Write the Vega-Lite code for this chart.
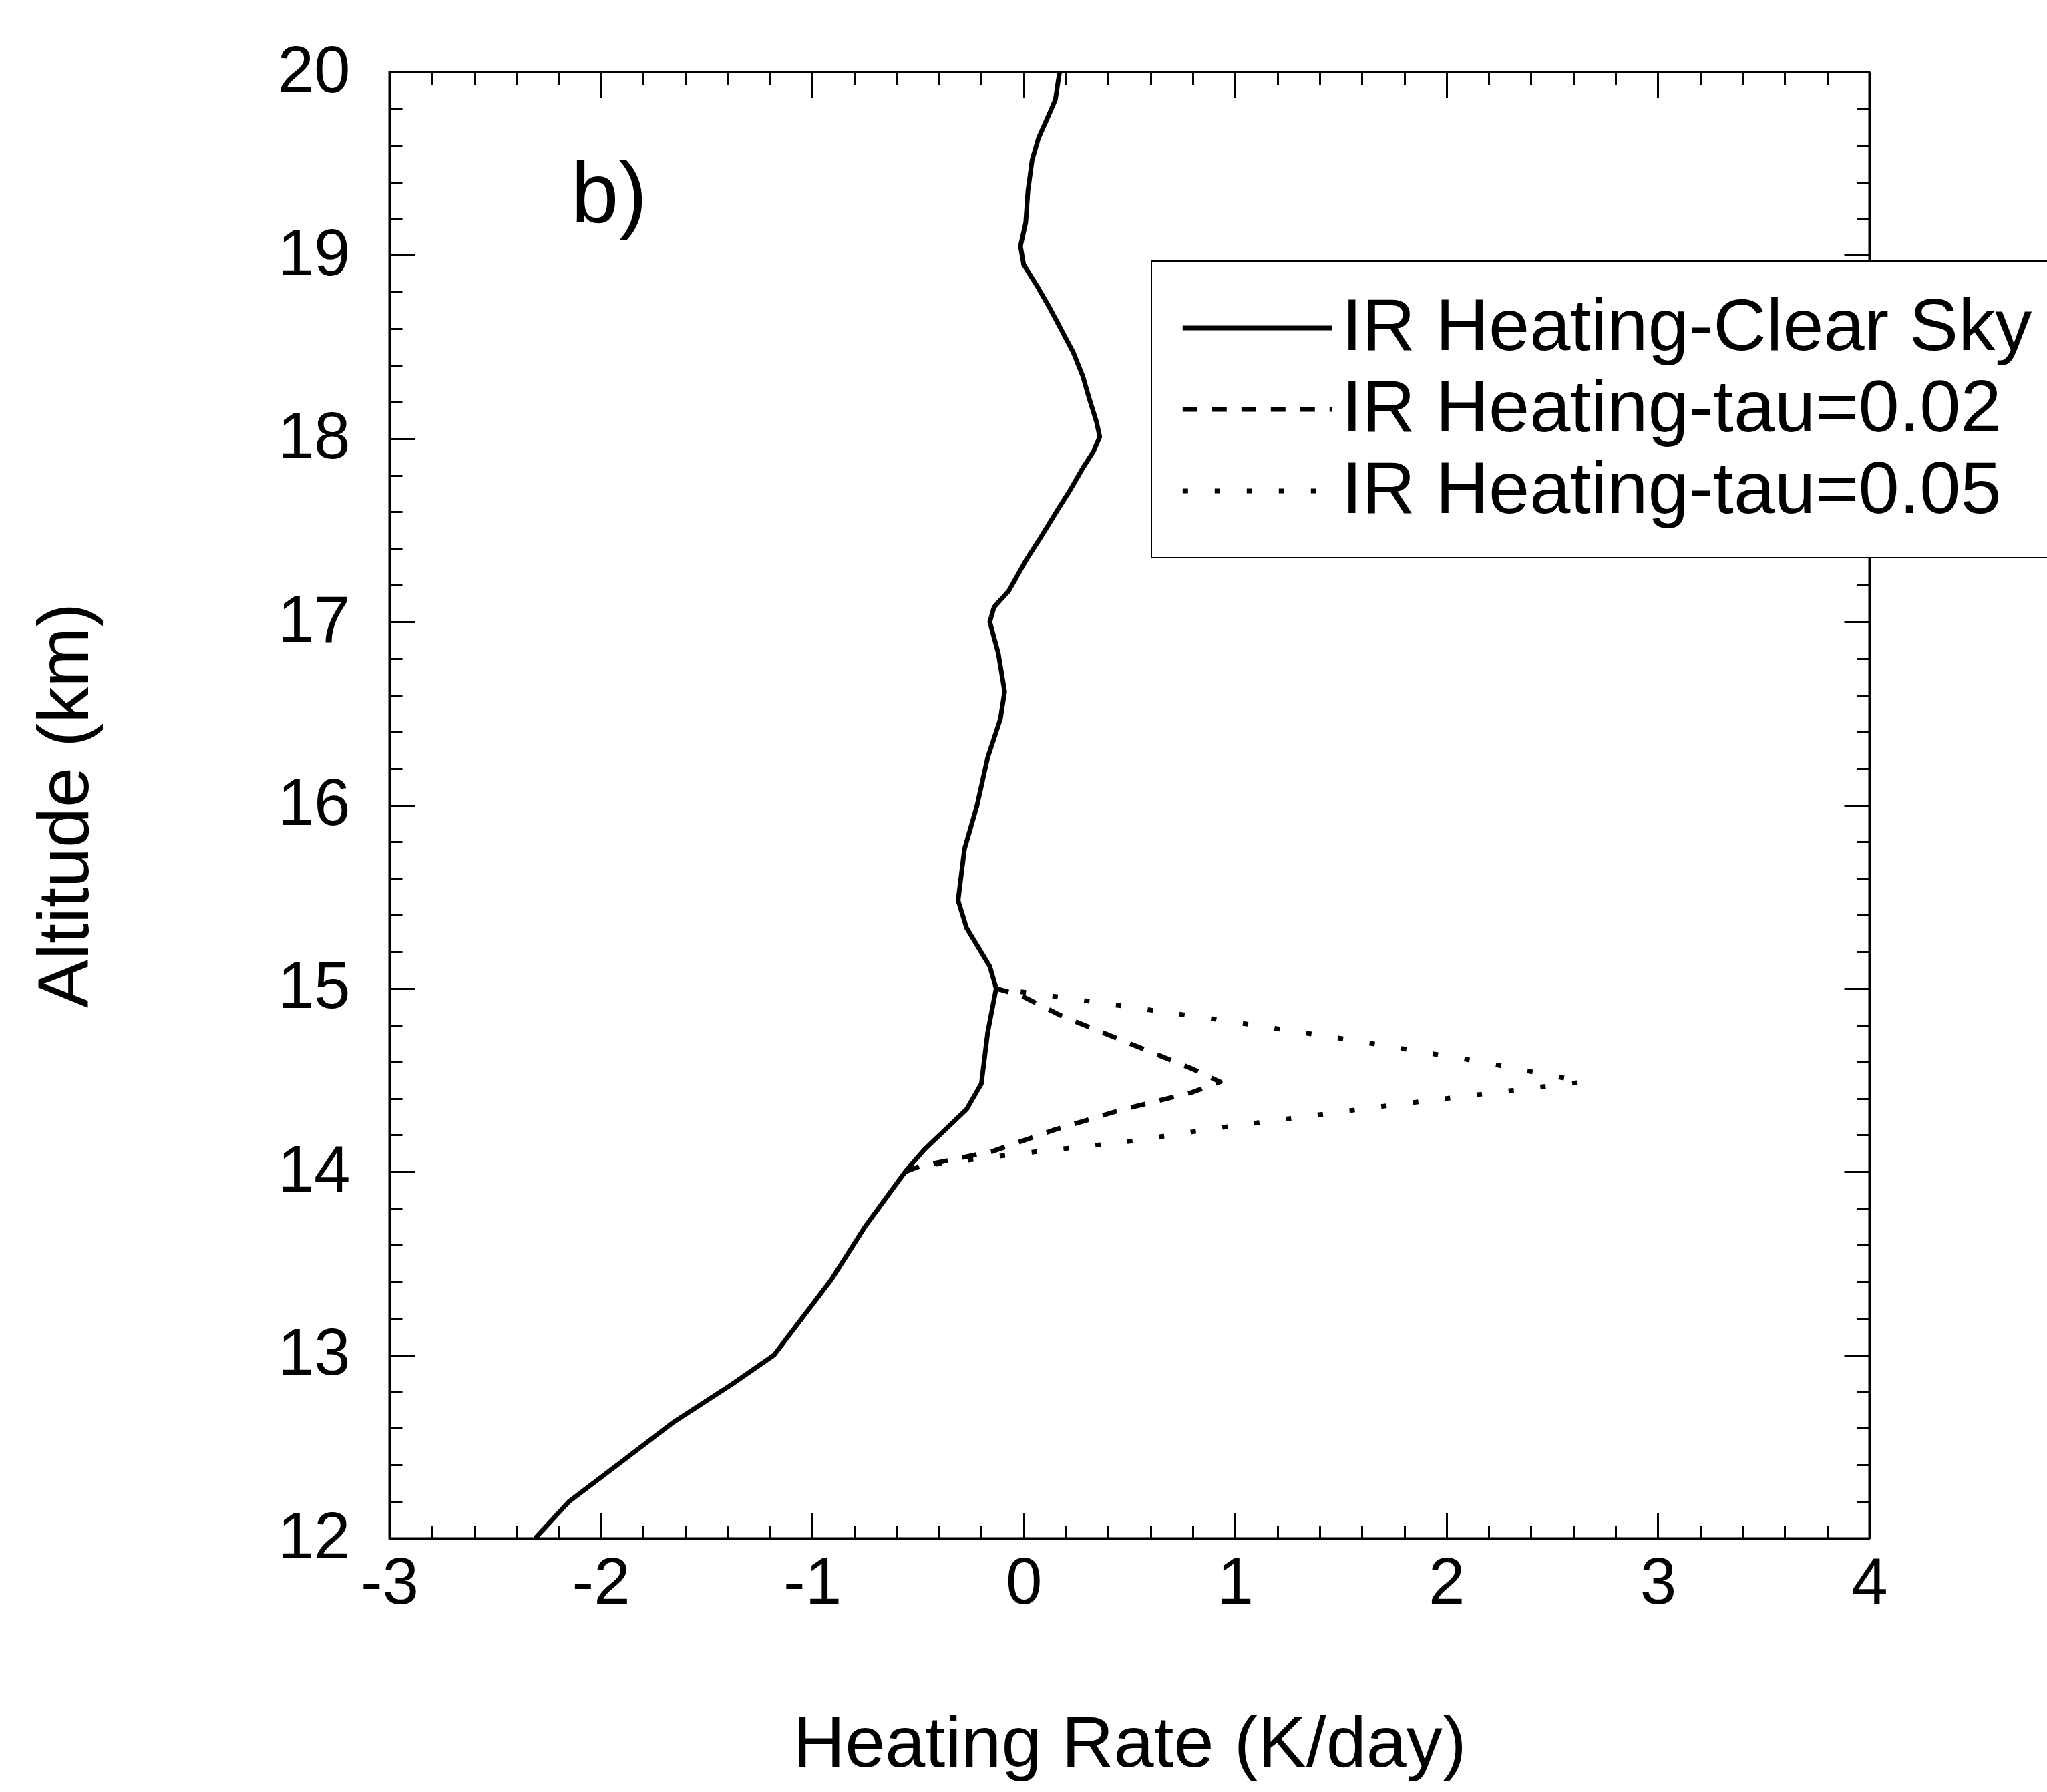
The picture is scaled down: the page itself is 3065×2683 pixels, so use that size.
{
  "$schema": "https://vega.github.io/schema/vega-lite/v6.json",
  "width": 2216,
  "height": 2195,
  "autosize": {"type": "none"},
  "padding": {"left": 583, "top": 108, "right": 266, "bottom": 380},
  "background": "white",
  "config": {
    "view": {"stroke": "black", "strokeWidth": 3},
    "font": "Liberation Sans",
    "legend": {"strokeWidth": 2}
  },
  "datasets": {
    "profiles": [
      {"series": "IR Heating-Clear Sky", "heating_rate": 0.17, "altitude": 20.0},
      {"series": "IR Heating-Clear Sky", "heating_rate": 0.15, "altitude": 19.85},
      {"series": "IR Heating-Clear Sky", "heating_rate": 0.12, "altitude": 19.77},
      {"series": "IR Heating-Clear Sky", "heating_rate": 0.07, "altitude": 19.64},
      {"series": "IR Heating-Clear Sky", "heating_rate": 0.04, "altitude": 19.52},
      {"series": "IR Heating-Clear Sky", "heating_rate": 0.02, "altitude": 19.35},
      {"series": "IR Heating-Clear Sky", "heating_rate": 0.01, "altitude": 19.18},
      {"series": "IR Heating-Clear Sky", "heating_rate": -0.015, "altitude": 19.05},
      {"series": "IR Heating-Clear Sky", "heating_rate": 0.0, "altitude": 18.95},
      {"series": "IR Heating-Clear Sky", "heating_rate": 0.065, "altitude": 18.83},
      {"series": "IR Heating-Clear Sky", "heating_rate": 0.12, "altitude": 18.72},
      {"series": "IR Heating-Clear Sky", "heating_rate": 0.18, "altitude": 18.59},
      {"series": "IR Heating-Clear Sky", "heating_rate": 0.235, "altitude": 18.47},
      {"series": "IR Heating-Clear Sky", "heating_rate": 0.28, "altitude": 18.34},
      {"series": "IR Heating-Clear Sky", "heating_rate": 0.31, "altitude": 18.22},
      {"series": "IR Heating-Clear Sky", "heating_rate": 0.345, "altitude": 18.09},
      {"series": "IR Heating-Clear Sky", "heating_rate": 0.36, "altitude": 18.01},
      {"series": "IR Heating-Clear Sky", "heating_rate": 0.33, "altitude": 17.93},
      {"series": "IR Heating-Clear Sky", "heating_rate": 0.28, "altitude": 17.84},
      {"series": "IR Heating-Clear Sky", "heating_rate": 0.22, "altitude": 17.72},
      {"series": "IR Heating-Clear Sky", "heating_rate": 0.16, "altitude": 17.61},
      {"series": "IR Heating-Clear Sky", "heating_rate": 0.08, "altitude": 17.46},
      {"series": "IR Heating-Clear Sky", "heating_rate": 0.013, "altitude": 17.34},
      {"series": "IR Heating-Clear Sky", "heating_rate": -0.07, "altitude": 17.17},
      {"series": "IR Heating-Clear Sky", "heating_rate": -0.14, "altitude": 17.08},
      {"series": "IR Heating-Clear Sky", "heating_rate": -0.16, "altitude": 17.0},
      {"series": "IR Heating-Clear Sky", "heating_rate": -0.12, "altitude": 16.83},
      {"series": "IR Heating-Clear Sky", "heating_rate": -0.09, "altitude": 16.62},
      {"series": "IR Heating-Clear Sky", "heating_rate": -0.11, "altitude": 16.47},
      {"series": "IR Heating-Clear Sky", "heating_rate": -0.17, "altitude": 16.26},
      {"series": "IR Heating-Clear Sky", "heating_rate": -0.22, "altitude": 16.0},
      {"series": "IR Heating-Clear Sky", "heating_rate": -0.28, "altitude": 15.76},
      {"series": "IR Heating-Clear Sky", "heating_rate": -0.31, "altitude": 15.48},
      {"series": "IR Heating-Clear Sky", "heating_rate": -0.27, "altitude": 15.33},
      {"series": "IR Heating-Clear Sky", "heating_rate": -0.16, "altitude": 15.12},
      {"series": "IR Heating-Clear Sky", "heating_rate": -0.13, "altitude": 15.0},
      {"series": "IR Heating-Clear Sky", "heating_rate": -0.17, "altitude": 14.76},
      {"series": "IR Heating-Clear Sky", "heating_rate": -0.2, "altitude": 14.48},
      {"series": "IR Heating-Clear Sky", "heating_rate": -0.27, "altitude": 14.34},
      {"series": "IR Heating-Clear Sky", "heating_rate": -0.47, "altitude": 14.12},
      {"series": "IR Heating-Clear Sky", "heating_rate": -0.56, "altitude": 14.0},
      {"series": "IR Heating-Clear Sky", "heating_rate": -0.75, "altitude": 13.7},
      {"series": "IR Heating-Clear Sky", "heating_rate": -0.91, "altitude": 13.41},
      {"series": "IR Heating-Clear Sky", "heating_rate": -1.18, "altitude": 13.0},
      {"series": "IR Heating-Clear Sky", "heating_rate": -1.38, "altitude": 12.84},
      {"series": "IR Heating-Clear Sky", "heating_rate": -1.66, "altitude": 12.63},
      {"series": "IR Heating-Clear Sky", "heating_rate": -1.91, "altitude": 12.41},
      {"series": "IR Heating-Clear Sky", "heating_rate": -2.15, "altitude": 12.2},
      {"series": "IR Heating-Clear Sky", "heating_rate": -2.31, "altitude": 12.0},
      {"series": "IR Heating-tau=0.02", "heating_rate": -0.13, "altitude": 15.0},
      {"series": "IR Heating-tau=0.02", "heating_rate": -0.01, "altitude": 14.96},
      {"series": "IR Heating-tau=0.02", "heating_rate": 0.18, "altitude": 14.85},
      {"series": "IR Heating-tau=0.02", "heating_rate": 0.5, "altitude": 14.7},
      {"series": "IR Heating-tau=0.02", "heating_rate": 0.8, "altitude": 14.56},
      {"series": "IR Heating-tau=0.02", "heating_rate": 0.93, "altitude": 14.49},
      {"series": "IR Heating-tau=0.02", "heating_rate": 0.79, "altitude": 14.43},
      {"series": "IR Heating-tau=0.02", "heating_rate": 0.47, "altitude": 14.34},
      {"series": "IR Heating-tau=0.02", "heating_rate": 0.15, "altitude": 14.23},
      {"series": "IR Heating-tau=0.02", "heating_rate": -0.15, "altitude": 14.11},
      {"series": "IR Heating-tau=0.02", "heating_rate": -0.49, "altitude": 14.03},
      {"series": "IR Heating-tau=0.02", "heating_rate": -0.56, "altitude": 14.0},
      {"series": "IR Heating-tau=0.05", "heating_rate": -0.13, "altitude": 15.0},
      {"series": "IR Heating-tau=0.05", "heating_rate": 0.13, "altitude": 14.96},
      {"series": "IR Heating-tau=0.05", "heating_rate": 0.92, "altitude": 14.83},
      {"series": "IR Heating-tau=0.05", "heating_rate": 1.54, "altitude": 14.72},
      {"series": "IR Heating-tau=0.05", "heating_rate": 2.16, "altitude": 14.6},
      {"series": "IR Heating-tau=0.05", "heating_rate": 2.65, "altitude": 14.49},
      {"series": "IR Heating-tau=0.05", "heating_rate": 2.5, "altitude": 14.47},
      {"series": "IR Heating-tau=0.05", "heating_rate": 1.72, "altitude": 14.36},
      {"series": "IR Heating-tau=0.05", "heating_rate": 0.93, "altitude": 14.24},
      {"series": "IR Heating-tau=0.05", "heating_rate": 0.47, "altitude": 14.16},
      {"series": "IR Heating-tau=0.05", "heating_rate": -0.01, "altitude": 14.1},
      {"series": "IR Heating-tau=0.05", "heating_rate": -0.49, "altitude": 14.03},
      {"series": "IR Heating-tau=0.05", "heating_rate": -0.56, "altitude": 14.0}
    ]
  },
  "layer": [
    {
      "data": {"name": "profiles"},
      "mark": {"type": "line", "strokeWidth": 7, "color": "black", "strokeCap": "butt", "strokeJoin": "round", "clip": true},
      "encoding": {
        "x": {
          "field": "heating_rate", "type": "quantitative",
          "scale": {"domain": [-3, 4], "nice": false, "zero": false},
          "axis": {
            "orient": "bottom",
            "values": [-3, -2.8, -2.6, -2.4, -2.2, -2, -1.8, -1.6, -1.4, -1.2, -1, -0.8, -0.6, -0.4, -0.2, 0, 0.2, 0.4, 0.6, 0.8, 1, 1.2, 1.4, 1.6, 1.8, 2, 2.2, 2.4, 2.6, 2.8, 3, 3.2, 3.4, 3.6, 3.8, 4],
            "labelExpr": "abs(datum.value % 1) < 1e-6 ? '' + datum.value : ''",
            "tickSize": {"condition": {"test": "abs(datum.value % 1) < 1e-6", "value": -38}, "value": -19},
            "tickWidth": 3, "tickColor": "black",
            "domainColor": "black", "domainWidth": 3,
            "grid": false,
            "labelFont": "Liberation Sans", "labelFontSize": 98, "labelColor": "black",
            "labelPadding": 58, "labelFlush": false, "labelOverlap": false,
            "title": "Heating Rate (K/day)",
            "titleFont": "Liberation Sans", "titleFontSize": 108, "titleFontWeight": "normal", "titleColor": "black",
            "titlePadding": 120
          }
        },
        "y": {
          "field": "altitude", "type": "quantitative",
          "scale": {"domain": [12, 20], "nice": false, "zero": false},
          "axis": {
            "orient": "left",
            "values": [12, 12.2, 12.4, 12.6, 12.8, 13, 13.2, 13.4, 13.6, 13.8, 14, 14.2, 14.4, 14.6, 14.8, 15, 15.2, 15.4, 15.6, 15.8, 16, 16.2, 16.4, 16.6, 16.8, 17, 17.2, 17.4, 17.6, 17.8, 18, 18.2, 18.4, 18.6, 18.8, 19, 19.2, 19.4, 19.6, 19.8, 20],
            "labelExpr": "abs(datum.value % 1) < 1e-6 ? '' + datum.value : ''",
            "tickSize": {"condition": {"test": "abs(datum.value % 1) < 1e-6", "value": -38}, "value": -19},
            "tickWidth": 3, "tickColor": "black",
            "domainColor": "black", "domainWidth": 3,
            "grid": false,
            "labelFont": "Liberation Sans", "labelFontSize": 98, "labelColor": "black",
            "labelPadding": 97, "labelFlush": false, "labelOverlap": false,
            "title": "Altitude (km)",
            "titleFont": "Liberation Sans", "titleFontSize": 108, "titleFontWeight": "normal", "titleColor": "black",
            "titlePadding": 260
          }
        },
        "order": {"field": "altitude", "type": "quantitative"},
        "strokeDash": {
          "field": "series", "type": "nominal",
          "scale": {
            "domain": ["IR Heating-Clear Sky", "IR Heating-tau=0.02", "IR Heating-tau=0.05"],
            "range": [[1, 0], [22, 22], [8, 40]]
          },
          "legend": {
            "title": null,
            "orient": "none",
            "legendX": 1141,
            "legendY": 283,
            "fillColor": "white",
            "strokeColor": "black",
            "padding": 45,
            "symbolType": "M-1.9,0H6.1",
            "symbolSize": 3136,
            "symbolStrokeWidth": 7,
            "symbolStrokeColor": "black",
            "labelFont": "Liberation Sans",
            "labelFontSize": 110,
            "labelColor": "black",
            "labelOffset": 130,
            "labelLimit": 2000,
            "rowPadding": 12
          }
        }
      }
    },
    {
      "data": {"values": [{"label": "b)"}]},
      "mark": {"type": "text", "align": "left", "baseline": "alphabetic", "font": "Liberation Sans", "fontSize": 128, "color": "black"},
      "encoding": {
        "text": {"field": "label", "type": "nominal"},
        "x": {
          "datum": -2.14, "type": "quantitative",
          "axis": {
            "orient": "top",
            "values": [-3, -2.8, -2.6, -2.4, -2.2, -2, -1.8, -1.6, -1.4, -1.2, -1, -0.8, -0.6, -0.4, -0.2, 0, 0.2, 0.4, 0.6, 0.8, 1, 1.2, 1.4, 1.6, 1.8, 2, 2.2, 2.4, 2.6, 2.8, 3, 3.2, 3.4, 3.6, 3.8, 4],
            "labels": false, "title": null, "grid": false,
            "tickSize": {"condition": {"test": "abs(datum.value % 1) < 1e-6", "value": -38}, "value": -19},
            "tickWidth": 3, "tickColor": "black",
            "domainColor": "black", "domainWidth": 3
          }
        },
        "y": {
          "datum": 19.18, "type": "quantitative",
          "axis": {
            "orient": "right",
            "values": [12, 12.2, 12.4, 12.6, 12.8, 13, 13.2, 13.4, 13.6, 13.8, 14, 14.2, 14.4, 14.6, 14.8, 15, 15.2, 15.4, 15.6, 15.8, 16, 16.2, 16.4, 16.6, 16.8, 17, 17.2, 17.4, 17.6, 17.8, 18, 18.2, 18.4, 18.6, 18.8, 19, 19.2, 19.4, 19.6, 19.8, 20],
            "labels": false, "title": null, "grid": false,
            "tickSize": {"condition": {"test": "abs(datum.value % 1) < 1e-6", "value": -38}, "value": -19},
            "tickWidth": 3, "tickColor": "black",
            "domainColor": "black", "domainWidth": 3
          }
        }
      }
    }
  ],
  "resolve": {"axis": {"x": "independent", "y": "independent"}}
}
